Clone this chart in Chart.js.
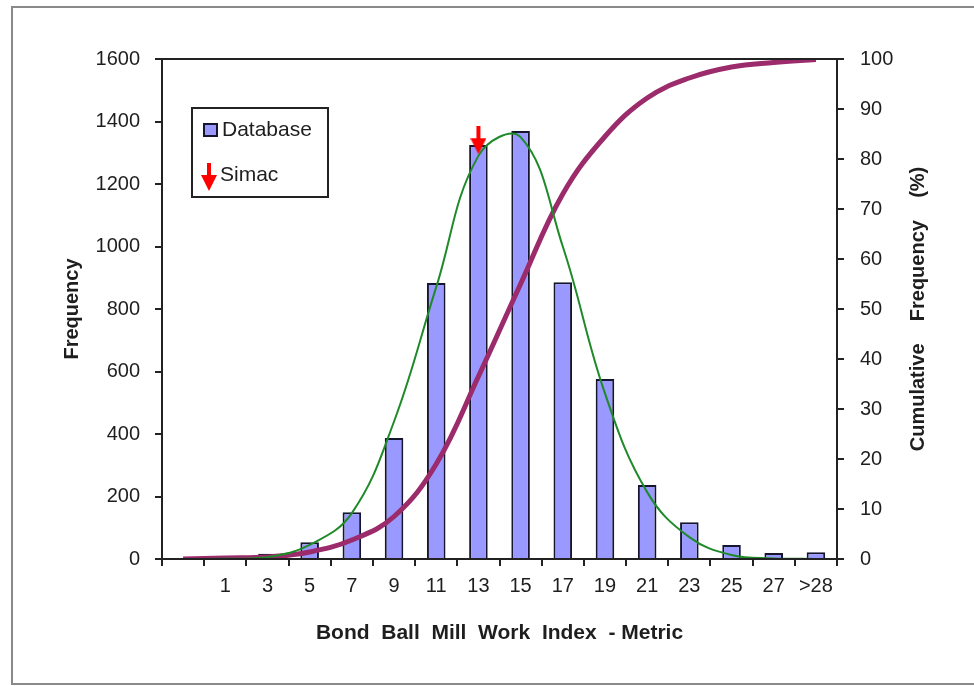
<!DOCTYPE html>
<html>
<head>
<meta charset="utf-8">
<script src="https://cdn.jsdelivr.net/npm/chart.js@4.4.1/dist/chart.umd.min.js"></script>
<style>
  body { margin: 0; background: #fff; overflow: hidden; }
  #wrap { position: relative; width: 974px; height: 686px; overflow: hidden; }
  #frame { position: absolute; left: 11px; top: 6px; width: 990px; height: 675px; border: 2px solid #8a8a8a; }
  canvas { position: absolute; left: 0; top: 0; }
</style>
</head>
<body>
<div id="wrap">
  <div id="frame"></div>
  <canvas id="grafico" width="974" height="686"></canvas>
</div>
<script>
// categorias do eixo x (a primeira fica sem rótulo)
const categorias = ['', '1', '3', '5', '7', '9', '11', '13', '15', '17', '19', '21', '23', '25', '27', '>28'];
// frequência da base de dados (barras)
const frequencia = [null, null, 17, 54, 150, 387, 883, 1325, 1370, 886, 576, 237, 118, 45, 19, 22];
// curva normal ajustada (linha verde)
const ajusteNormal = [0, 0.5, 6, 45, 147, 440, 870, 1290, 1350, 1000, 530, 214, 70, 13, 2, 0];
// frequência acumulada em % (linha roxa)
const acumulada = [0, 0.2, 0.4, 1.4, 3.8, 8.5, 19, 36.5, 55, 73, 84.5, 92.2, 96.2, 98.4, 99.3, 99.9];
// ponto Simac (seta vermelha)
const simac = [null, null, null, null, null, null, null, 1340, null, null, null, null, null, null, null, null];

const fonte = "'Liberation Sans', Arial, sans-serif";
const corTexto = '#1e1e1e';

// seta vermelha para baixo
function criarSeta() {
  const c = document.createElement('canvas');
  c.width = 16; c.height = 28;
  const g = c.getContext('2d');
  g.fillStyle = '#ff0000';
  g.fillRect(6, 0, 4, 14);
  g.beginPath();
  g.moveTo(0, 12); g.lineTo(16, 12); g.lineTo(8, 28); g.closePath();
  g.fill();
  return c;
}
const seta = criarSeta();

const extras = {
  id: 'extras',
  afterDraw(chart) {
    const {ctx, chartArea} = chart;
    ctx.save();
    // moldura da área do gráfico
    ctx.strokeStyle = '#222';
    ctx.lineWidth = 2;
    ctx.strokeRect(chartArea.left, chartArea.top, chartArea.right - chartArea.left, chartArea.bottom - chartArea.top);

    // legenda dentro da área
    const lx = chartArea.left + 30, ly = chartArea.top + 49;
    ctx.fillStyle = '#fff';
    ctx.fillRect(lx, ly, 136, 89);
    ctx.strokeRect(lx, ly, 136, 89);
    const dsBar = chart.data.datasets[3];
    ctx.fillStyle = dsBar.backgroundColor;
    ctx.fillRect(lx + 12, ly + 16, 13, 12);
    ctx.strokeStyle = dsBar.borderColor;
    ctx.lineWidth = 2;
    ctx.strokeRect(lx + 12, ly + 16, 13, 12);
    ctx.drawImage(seta, lx + 9, ly + 55);
    ctx.fillStyle = corTexto;
    ctx.font = '21px ' + fonte;
    ctx.textBaseline = 'middle';
    ctx.textAlign = 'left';
    ctx.fillText(dsBar.label, lx + 30, ly + 22);
    ctx.fillText(chart.data.datasets[0].label, lx + 28, ly + 67);

    // título do eixo direito (lido de baixo para cima)
    ctx.font = 'bold 20px ' + fonte;
    ctx.textAlign = 'center';
    ctx.translate(918, (chartArea.top + chartArea.bottom) / 2);
    ctx.rotate(-Math.PI / 2);
    ctx.fillText('Cumulative    Frequency    (%)', 0, 0);
    ctx.restore();
  }
};

const semMilhar = v => String(v);

const ctx = document.getElementById('grafico').getContext('2d');
new Chart(ctx, {
  type: 'bar',
  data: {
    labels: categorias,
    datasets: [
      {
        type: 'line',
        label: 'Simac',
        data: simac,
        yAxisID: 'y',
        showLine: false,
        pointStyle: seta,
        pointRadius: 10,
        order: 0
      },
      {
        type: 'line',
        label: 'Normal',
        data: ajusteNormal,
        yAxisID: 'y',
        borderColor: '#1f8a2a',
        borderWidth: 2,
        pointRadius: 0,
        tension: 0.4,
        fill: false,
        order: 1
      },
      {
        type: 'line',
        label: 'Cumulative',
        data: acumulada,
        yAxisID: 'y1',
        borderColor: '#9b2b6a',
        borderWidth: 5,
        pointRadius: 0,
        tension: 0.4,
        fill: false,
        order: 2
      },
      {
        type: 'bar',
        label: 'Database',
        data: frequencia,
        yAxisID: 'y',
        backgroundColor: '#9999ff',
        borderColor: '#15152e',
        borderWidth: 2,
        barPercentage: 0.44,
        categoryPercentage: 1,
        order: 3
      }
    ]
  },
  options: {
    responsive: false,
    animation: false,
    devicePixelRatio: 1,
    layout: { padding: { left: 0, right: 0, top: 59, bottom: 0 } },
    plugins: {
      legend: { display: false },
      tooltip: { enabled: false }
    },
    scales: {
      x: {
        grid: { display: true, drawOnChartArea: false, offset: true, tickLength: 7, color: '#222', lineWidth: 2 },
        border: { color: '#222', width: 2 },
        ticks: { color: corTexto, font: { family: fonte, size: 20 }, padding: 8, maxRotation: 0, autoSkip: false },
        title: { display: true, text: 'Bond  Ball  Mill  Work  Index  - Metric', color: corTexto, font: { family: fonte, size: 21, weight: 'bold' }, padding: { bottom: 40 } },
        afterFit(s) { s.height = 127; }
      },
      y: {
        position: 'left',
        min: 0, max: 1600,
        grid: { drawOnChartArea: false, tickLength: 7, color: '#222', lineWidth: 2 },
        border: { color: '#222', width: 2 },
        ticks: { stepSize: 200, color: corTexto, font: { family: fonte, size: 20 }, padding: 15, callback: semMilhar },
        title: { display: true, text: 'Frequency', color: corTexto, font: { family: fonte, size: 20, weight: 'bold' }, padding: { top: 60 } },
        afterFit(s) { s.width = 162; }
      },
      y1: {
        position: 'right',
        min: 0, max: 100,
        grid: { drawOnChartArea: false, tickLength: 7, color: '#222', lineWidth: 2 },
        border: { color: '#222', width: 2 },
        ticks: { stepSize: 10, color: corTexto, font: { family: fonte, size: 20 }, padding: 16, callback: semMilhar },
        afterFit(s) { s.width = 137; }
      }
    }
  },
  plugins: [extras]
});
</script>
</body>
</html>
